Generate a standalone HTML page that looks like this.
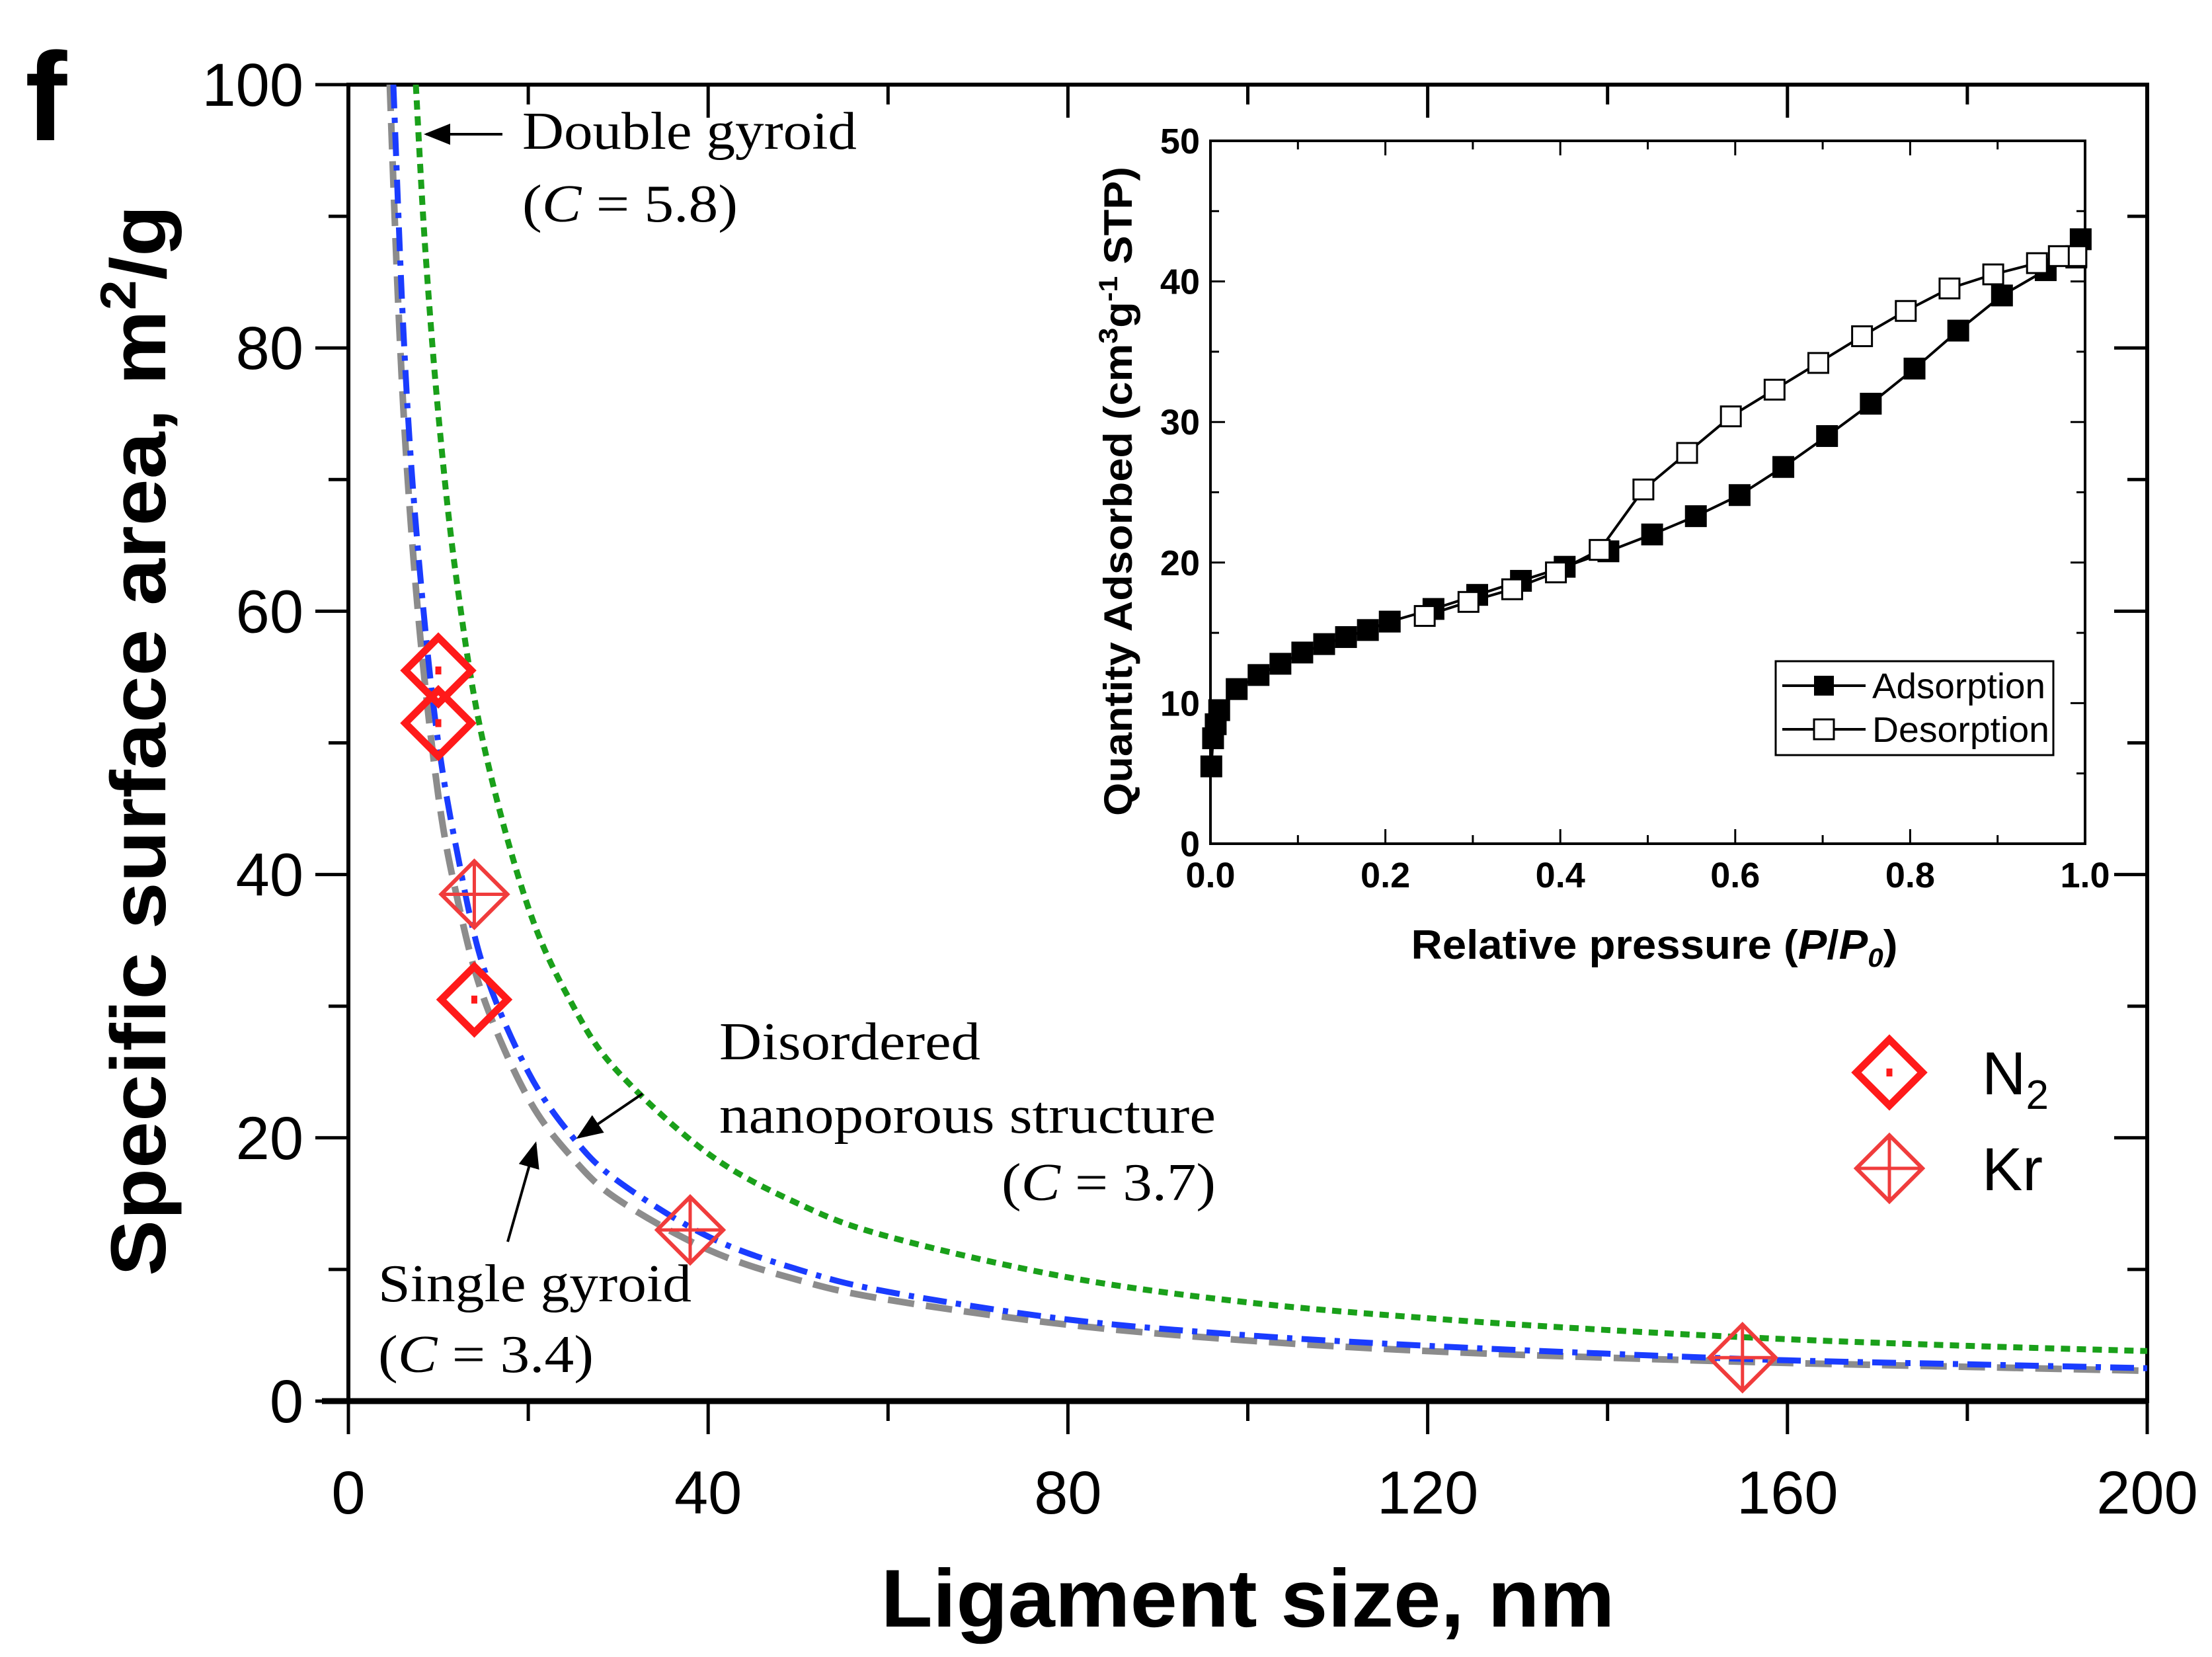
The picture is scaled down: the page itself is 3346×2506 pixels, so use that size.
<!DOCTYPE html>
<html><head><meta charset="utf-8"><style>
html,body{margin:0;padding:0;background:#fff;}
svg{display:block;}
</style></head><body>
<svg id="chart" width="3346" height="2506" viewBox="0 0 3346 2506" xmlns="http://www.w3.org/2000/svg">
<rect width="3346" height="2506" fill="#fff"/>
<text x="38" y="212" font-family="Liberation Sans, sans-serif" font-weight="bold" font-size="190">f</text>
<g id="main"></g>
<g id="inset"></g>
</svg>
<script>
const NS="http://www.w3.org/2000/svg";
// ---- main chart data ----
const xTicks=[0,40,80,120,160,200];
const yTicks=[0,20,40,60,80,100];
const greenX=[7.5,8.5,10,12,15,20,25,30,40,50,60,80,100,120,140,160,180,200];
const greenY=[100,88,75,62.5,50,37.5,30,25,18.8,15,12.5,9.4,7.5,6.3,5.4,4.7,4.2,3.8];
const blueX=[5,6,7,8.5,10,12,15,20,25,30,40,50,60,80,100,120,140,160,180,200];
const blueY=[100,83,71,59,50,42,33,25,20,16.7,12.5,10,8.3,6.2,5,4.2,3.6,3.1,2.8,2.5];
const greyX=[4.6,5.5,6.5,8,10,12,15,20,25,30,40,50,60,80,100,120,140,160,180,200];
const greyY=[100,84,71,58,46,38.5,30.7,23,18.4,15.3,11.5,9.2,7.7,5.8,4.6,3.8,3.3,2.9,2.6,2.3];
const n2X=[10,10,14];
const n2Y=[55.5,51.5,30.5];
const krX=[14,38,155];
const krY=[38.5,13,3.3];
// ---- inset data ----
const insXTicks=[0,0.2,0.4,0.6,0.8,1.0];
const insYTicks=[0,10,20,30,40,50];
const adsX=[0.001,0.003,0.006,0.01,0.03,0.055,0.08,0.105,0.13,0.155,0.18,0.205,0.255,0.305,0.355,0.405,0.455,0.505,0.555,0.605,0.655,0.705,0.755,0.805,0.855,0.905,0.955,0.99,0.995];
const adsY=[5.5,7.5,8.5,9.5,11,12,12.8,13.6,14.2,14.7,15.2,15.8,16.7,17.7,18.7,19.7,20.8,22,23.3,24.8,26.8,29,31.3,33.8,36.5,39,40.8,41.7,43];
const desX=[0.99,0.97,0.945,0.895,0.845,0.795,0.745,0.695,0.645,0.595,0.545,0.495,0.445,0.395,0.345,0.295,0.245];
const desY=[41.8,41.8,41.3,40.5,39.5,37.9,36.1,34.2,32.3,30.4,27.8,25.2,20.9,19.3,18.1,17.2,16.2];

const X0=527,X1=3248,Y0=2119,Y1=128;
const sx=v=>X0+(v/200)*(X1-X0);
const sy=v=>Y0-(v/100)*(Y0-Y1);
const IX0=1831,IX1=3154,IY0=1276,IY1=213;
const ix=v=>IX0+v*(IX1-IX0);
const iy=v=>IY0-(v/50)*(IY0-IY1);

function mk(tag,attrs,parent,txt){const e=document.createElementNS(NS,tag);for(const k in attrs)e.setAttribute(k,attrs[k]);if(txt!==undefined)e.textContent=txt;parent.appendChild(e);return e;}
const main=document.getElementById('main');
const inset=document.getElementById('inset');
const F="Liberation Sans, sans-serif", SF="Liberation Serif, serif";

let fr=mk('rect',{x:X0,y:Y1,width:X1-X0,height:Y0-Y1,fill:'none',stroke:'#000','stroke-width':6},main);


let bl=mk('line',{x1:X0-40,y1:Y0,x2:X1,y2:Y0,stroke:'#000','stroke-width':9},main);


for(let v=0;v<=200;v+=20){
  const major=v%40===0;
  let t=mk('line',{x1:sx(v),y1:Y0,x2:sx(v),y2:Y0+(major?50:30),stroke:'#000','stroke-width':5},main);
  
  
  mk('line',{x1:sx(v),y1:Y1,x2:sx(v),y2:Y1+(major?50:30),stroke:'#000','stroke-width':5},main);
}
xTicks.forEach(v=>{
  let t=mk('text',{x:sx(v),y:Y0+170,'font-family':F,'font-size':92,'text-anchor':'middle'},main,String(v));
  
  
});
for(let v=0;v<=100;v+=10){
  const major=v%20===0;
  let t=mk('line',{x1:X0,y1:sy(v),x2:X0-(major?50:30),y2:sy(v),stroke:'#000','stroke-width':5},main);
  
  
  mk('line',{x1:X1,y1:sy(v),x2:X1-(major?50:30),y2:sy(v),stroke:'#000','stroke-width':5},main);
}
yTicks.forEach(v=>{
  let t=mk('text',{x:X0-68,y:sy(v)+32,'font-family':F,'font-size':92,'text-anchor':'end'},main,String(v));
  
  
});
let xt=mk('text',{x:(X0+X1)/2,y:2460,'font-family':F,'font-weight':'bold','font-size':124,'text-anchor':'middle',textLength:1110,lengthAdjust:'spacingAndGlyphs'},main,'Ligament size, nm');


let yt=mk('text',{x:0,y:0,'font-family':F,'font-weight':'bold','font-size':118,'text-anchor':'middle',transform:'translate(250,1120) rotate(-90)',textLength:1620,lengthAdjust:'spacingAndGlyphs'},main);


yt.innerHTML='Specific surface area, m<tspan dy="-45" font-size="76">2</tspan><tspan dy="45">/g</tspan>';

const clip=mk('clipPath',{id:'pc'},main);mk('rect',{x:X0,y:Y1,width:X1-X0,height:Y0-Y1},clip);
function smoothPath(pts){
  let d='M'+pts[0][0].toFixed(1)+','+pts[0][1].toFixed(1);
  for(let i=0;i<pts.length-1;i++){
    const p0=pts[i-1]||pts[i],p1=pts[i],p2=pts[i+1],p3=pts[i+2]||p2;
    const c1=[p1[0]+(p2[0]-p0[0])/6,p1[1]+(p2[1]-p0[1])/6];
    const c2=[p2[0]-(p3[0]-p1[0])/6,p2[1]-(p3[1]-p1[1])/6];
    d+=` C${c1[0].toFixed(1)},${c1[1].toFixed(1)} ${c2[0].toFixed(1)},${c2[1].toFixed(1)} ${p2[0].toFixed(1)},${p2[1].toFixed(1)}`;
  }
  return d;
}
function curve(xs,ys,attrs,name){
  const d=smoothPath(xs.map((x,i)=>[sx(x),sy(ys[i])]));
  const p=mk('path',Object.assign({d:d,fill:'none','clip-path':'url(#pc)'},attrs),main);
  
  
}
curve(greyX,greyY,{stroke:'#8c8c8c','stroke-width':10,'stroke-dasharray':'40,18'},'single-gyroid-curve');
curve(blueX,blueY,{stroke:'#1a3cff','stroke-width':9,'stroke-dasharray':'36,14,8,14'},'disordered-curve');
curve(greenX,greenY,{stroke:'#1aa01a','stroke-width':9,'stroke-dasharray':'14,10'},'double-gyroid-curve');

function n2(cx,cy,name){
  const g=mk('g',{},main);
  
  
  const r=50;
  mk('path',{d:`M${cx},${cy-r}L${cx+r},${cy}L${cx},${cy+r}L${cx-r},${cy}Z`,fill:'none',stroke:'#ff1a1a','stroke-width':11},g);
  mk('line',{x1:cx,y1:cy-6,x2:cx,y2:cy+6,stroke:'#ff1a1a','stroke-width':9},g);
}
function kr(cx,cy,name){
  const g=mk('g',{},main);
  
  
  const r=50;
  mk('path',{d:`M${cx},${cy-r}L${cx+r},${cy}L${cx},${cy+r}L${cx-r},${cy}Z`,fill:'none',stroke:'#f03c3c','stroke-width':6},g);
  mk('line',{x1:cx-r,y1:cy,x2:cx+r,y2:cy,stroke:'#f03c3c','stroke-width':5},g);
  mk('line',{x1:cx,y1:cy-r,x2:cx,y2:cy+r,stroke:'#f03c3c','stroke-width':5},g);
}
n2X.forEach((x,i)=>n2(sx(x),sy(n2Y[i]),'n2-point'));
krX.forEach((x,i)=>kr(sx(x),sy(krY[i]),'kr-point'));

const defs=mk('defs',{},main);
const m=mk('marker',{id:'ah',markerWidth:10,markerHeight:8,refX:9,refY:4,orient:'auto',markerUnits:'strokeWidth'},defs);
mk('path',{d:'M0,0L10,4L0,8Z',fill:'#000'},m);
function arrow(x1,y1,x2,y2,name){const a=mk('line',{x1,y1,x2,y2,stroke:'#000','stroke-width':4,'marker-end':'url(#ah)'},main);

}
function note(x,y,html,name,len,anchor){const t=mk('text',{x,y,'font-family':SF,'font-size':80,'text-anchor':anchor||'start',textLength:len,lengthAdjust:'spacingAndGlyphs'},main);t.innerHTML=html;

}
arrow(760,203,645,203,'double-gyroid-arrow');
note(790,225,'Double gyroid','double-gyroid-label',506);
note(790,335,'(<tspan font-style="italic">C</tspan> = 5.8)','double-gyroid-c-label',326);
note(1088,1602,'Disordered','disordered-label',395);
note(1088,1713,'nanoporous structure','disordered-label-2',751);
note(1515,1815,'(<tspan font-style="italic">C</tspan> = 3.7)','disordered-c-label',324);
arrow(972,1654,875,1720,'disordered-arrow');
note(572,1968,'Single gyroid','single-gyroid-label',474);
note(572,2075,'(<tspan font-style="italic">C</tspan> = 3.4)','single-gyroid-c-label',326);
arrow(768,1878,810,1730,'single-gyroid-arrow');

n2(2858,1622,'legend-n2-marker');
kr(2858,1767,'legend-kr-marker');
let l1=mk('text',{x:2998,y:1655,'font-family':F,'font-size':92},main);l1.innerHTML='N<tspan dy="22" font-size="62">2</tspan>';


let l2=mk('text',{x:2998,y:1800,'font-family':F,'font-size':92},main,'Kr');



// ---- inset ----
let ifr=mk('rect',{x:IX0,y:IY1,width:IX1-IX0,height:IY0-IY1,fill:'none',stroke:'#000','stroke-width':4},inset);


for(let v=0;v<=1.0001;v+=0.1){
  const major=Math.round(v*10)%2===0, L=major?22:13;
  mk('line',{x1:ix(v),y1:IY0,x2:ix(v),y2:IY0-L,stroke:'#000','stroke-width':3},inset);
  mk('line',{x1:ix(v),y1:IY1,x2:ix(v),y2:IY1+L,stroke:'#000','stroke-width':3},inset);
}
for(let v=0;v<=50;v+=5){
  const major=v%10===0, L=major?22:13;
  mk('line',{x1:IX0,y1:iy(v),x2:IX0+L,y2:iy(v),stroke:'#000','stroke-width':3},inset);
  mk('line',{x1:IX1,y1:iy(v),x2:IX1-L,y2:iy(v),stroke:'#000','stroke-width':3},inset);
}
insXTicks.forEach(v=>{const t=mk('text',{x:ix(v),y:IY0+66,'font-family':F,'font-weight':'bold','font-size':54,'text-anchor':'middle'},inset,v.toFixed(1));

});
insYTicks.forEach(v=>{const t=mk('text',{x:IX0-16,y:iy(v)+19,'font-family':F,'font-weight':'bold','font-size':54,'text-anchor':'end'},inset,String(v));

});
let ixt=mk('text',{x:(IX0+IX1)/2+10,y:1450,'font-family':F,'font-weight':'bold','font-size':62,'text-anchor':'middle',textLength:736,lengthAdjust:'spacingAndGlyphs'},inset);
ixt.innerHTML='Relative pressure (<tspan font-style="italic">P</tspan>/<tspan font-style="italic">P</tspan><tspan dy="12" font-size="40" font-style="italic">0</tspan><tspan dy="-12">)</tspan>';


let iyt=mk('text',{x:0,y:0,'font-family':F,'font-weight':'bold','font-size':60,'text-anchor':'middle',transform:'translate(1712,743) rotate(-90)',textLength:982,lengthAdjust:'spacingAndGlyphs'},inset);
iyt.innerHTML='Quantity Adsorbed (cm<tspan dy="-22" font-size="40">3</tspan><tspan dy="22">g</tspan><tspan dy="-22" font-size="40">-1</tspan><tspan dy="22"> STP)</tspan>';


function iseries(xs,ys,fill,name){
  const d=xs.map((x,i)=>(i?'L':'M')+ix(x).toFixed(1)+','+iy(ys[i]).toFixed(1)).join(' ');
  const p=mk('path',{d,fill:'none',stroke:'#000','stroke-width':4},inset);
  
  
  xs.forEach((x,i)=>{const s=mk('rect',{x:ix(x)-15,y:iy(ys[i])-15,width:30,height:30,fill,stroke:'#000','stroke-width':3},inset);
  
  });
}
iseries(adsX,adsY,'#000','adsorption');
iseries(desX,desY,'#fff','desorption');
const lg=mk('g',{},inset);


mk('rect',{x:2686,y:1000,width:420,height:142,fill:'#fff',stroke:'#000','stroke-width':3},lg);
mk('line',{x1:2696,y1:1037,x2:2822,y2:1037,stroke:'#000','stroke-width':4},lg);
mk('rect',{x:2744,y:1022,width:30,height:30,fill:'#000'},lg);
mk('text',{x:2832,y:1056,'font-family':F,'font-size':54,textLength:262,lengthAdjust:'spacingAndGlyphs'},lg,'Adsorption');
mk('line',{x1:2696,y1:1103,x2:2822,y2:1103,stroke:'#000','stroke-width':4},lg);
mk('rect',{x:2744,y:1088,width:30,height:30,fill:'#fff',stroke:'#000','stroke-width':3},lg);
mk('text',{x:2832,y:1122,'font-family':F,'font-size':54,textLength:268,lengthAdjust:'spacingAndGlyphs'},lg,'Desorption');
</script>
</body></html>
